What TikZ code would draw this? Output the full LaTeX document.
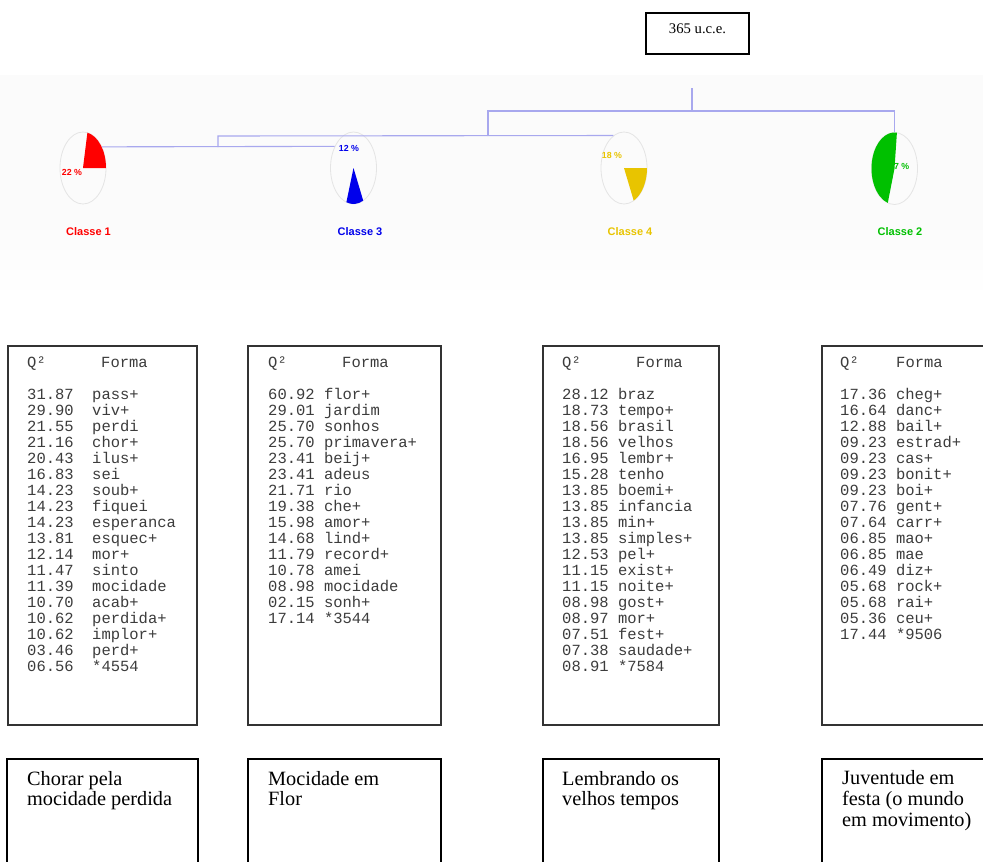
\documentclass[tikz,border=0pt]{standalone}
\usepackage{fontspec}
\setmainfont{Liberation Serif}
\newfontfamily\monofnt{Liberation Mono}
\newfontfamily\arialfnt{Liberation Sans}
\usetikzlibrary{shapes.geometric}
\definecolor{treeblue}{RGB}{168,168,238}
\definecolor{cred}{RGB}{255,0,0}
\definecolor{cblue}{RGB}{0,0,235}
\definecolor{cyel}{RGB}{232,196,0}
\definecolor{cgreen}{RGB}{0,192,0}
\definecolor{pieline}{RGB}{228,228,228}
\definecolor{bgtree}{RGB}{251,251,251}
\definecolor{tabtext}{RGB}{60,60,60}
\tikzset{
  tree/.style={draw=treeblue, line width=1.1pt},
  piebox/.style={draw=pieline, line width=0.8pt, ellipse, minimum width=46, minimum height=72, inner sep=0},
  tabtxt/.style={anchor=base west, inner sep=0, text=tabtext, font=\monofnt\fontsize{15.5}{16}\selectfont},
  bigtxt/.style={anchor=base west, inner sep=0, font=\fontsize{20.3}{20.5}\selectfont},
  classlbl/.style={anchor=base, inner sep=0, font=\arialfnt\bfseries\fontsize{11}{12}\selectfont},
  pctlbl/.style={anchor=base, inner sep=0, font=\arialfnt\bfseries\fontsize{8.8}{9}\selectfont},
  tabframe/.style={draw=black!80, line width=1.5pt},
  labframe/.style={draw=black, line width=1.1pt}
}
\begin{document}
\begin{tikzpicture}[x=1pt,y=-1pt]
\useasboundingbox (0,0) rectangle (983,862);
\clip (0,0) rectangle (983,862);
\fill[white] (0,0) rectangle (983,862);
\fill[bgtree] (0,75) rectangle (983,220);
\shade[top color=bgtree, bottom color=white] (0,219.5) rectangle (983,300);

% top box
\draw[line width=1.5pt] (646,13) rectangle (749,54);
\node[anchor=base, inner sep=0, font=\fontsize{14.7}{16}\selectfont] (total) at (697.5,33) {365 u.c.e.};

% pies
\node[piebox] (p1) at (83,168) {};
\node[piebox] (p3) at (353.5,168) {};
\node[piebox] (p4) at (624,168) {};
\node[piebox] (p2) at (894.5,168.5) {};
\fill[cred] (p1.center) -- +(-79:23 and 36) arc[start angle=-79, end angle=0, x radius=23, y radius=36] -- cycle;
\fill[cblue] (p3.center) -- +(65:23 and 36) arc[start angle=65, end angle=108, x radius=23, y radius=36] -- cycle;
\fill[cyel] (p4.center) -- +(0:23 and 36) arc[start angle=0, end angle=65, x radius=23, y radius=36] -- cycle;
\fill[cgreen] (p2.center) -- +(107:23 and 36) arc[start angle=107, end angle=276, x radius=23, y radius=36] -- cycle;

% dendrogram
\coordinate (root) at (692,88);
\coordinate (j0) at (692,111);
\coordinate (jL) at (488,111);
\coordinate (jLb) at (488,136);
\coordinate (j13) at (218,147);
\coordinate (j13t) at (218,136);
\draw[tree] (root) -- (j0);
\draw[tree] (jLb) -- (jL) -- (p2.north |- j0) -- (p2.north);
\draw[tree] (p1.48.3) -- (p3.131.7);
\draw[tree] (j13) -- (j13t) -- (p4.108.2);

% percent labels
\node[pctlbl, text=cred] (l1) at (72,175) {22 \%};
\node[pctlbl, text=cblue] (l3) at (349,151) {12 \%};
\node[pctlbl, text=cyel] (l4) at (612,158) {18 \%};
\node[pctlbl, text=cgreen, anchor=base west] (l2) at (889,169) {47 \%};

% class labels
\node[classlbl, text=cred] (c1) at (88.5,235) {Classe 1};
\node[classlbl, text=cblue] (c3) at (360,235) {Classe 3};
\node[classlbl, text=cyel] (c4) at (630,235) {Classe 4};
\node[classlbl, text=cgreen] (c2) at (900,235) {Classe 2};

% tables
\draw[tabframe] (8,346) rectangle (197,725);
\draw[tabframe] (248,346) rectangle (441,725);
\draw[tabframe] (543,346) rectangle (719,725);
\draw[tabframe] (822,346) rectangle (995,725);

\node[tabtxt] (h1q) at (27,367) {Q²};
\node[tabtxt] (h1f) at (101,367) {Forma};
\node[tabtxt] (h2q) at (268,367) {Q²};
\node[tabtxt] (h2f) at (342,367) {Forma};
\node[tabtxt] (h3q) at (562,367) {Q²};
\node[tabtxt] (h3f) at (636,367) {Forma};
\node[tabtxt] (h4q) at (840,367) {Q²};
\node[tabtxt] (h4f) at (896,367) {Forma};

\foreach \n/\w [count=\i] in {31.87/pass+, 29.90/viv+, 21.55/perdi, 21.16/chor+, 20.43/ilus+, 16.83/sei, 14.23/soub+, 14.23/fiquei, 14.23/esperanca, 13.81/esquec+, 12.14/mor+, 11.47/sinto, 11.39/mocidade, 10.70/acab+, 10.62/perdida+, 10.62/implor+, 03.46/perd+, 06.56/*4554}{
  \node[tabtxt] (t1n\i) at (27,{399+16*(\i-1)}) {\n};
  \node[tabtxt] (t1w\i) at (92,{399+16*(\i-1)}) {\w};
}
\foreach \n/\w [count=\i] in {60.92/flor+, 29.01/jardim, 25.70/sonhos, 25.70/primavera+, 23.41/beij+, 23.41/adeus, 21.71/rio, 19.38/che+, 15.98/amor+, 14.68/lind+, 11.79/record+, 10.78/amei, 08.98/mocidade, 02.15/sonh+, 17.14/*3544}{
  \node[tabtxt] (t2n\i) at (268,{399+16*(\i-1)}) {\n};
  \node[tabtxt] (t2w\i) at (323.8,{399+16*(\i-1)}) {\w};
}
\foreach \n/\w [count=\i] in {28.12/braz, 18.73/tempo+, 18.56/brasil, 18.56/velhos, 16.95/lembr+, 15.28/tenho, 13.85/boemi+, 13.85/infancia, 13.85/min+, 13.85/simples+, 12.53/pel+, 11.15/exist+, 11.15/noite+, 08.98/gost+, 08.97/mor+, 07.51/fest+, 07.38/saudade+, 08.91/*7584}{
  \node[tabtxt] (t3n\i) at (562,{399+16*(\i-1)}) {\n};
  \node[tabtxt] (t3w\i) at (617.8,{399+16*(\i-1)}) {\w};
}
\foreach \n/\w [count=\i] in {17.36/cheg+, 16.64/danc+, 12.88/bail+, 09.23/estrad+, 09.23/cas+, 09.23/bonit+, 09.23/boi+, 07.76/gent+, 07.64/carr+, 06.85/mao+, 06.85/mae, 06.49/diz+, 05.68/rock+, 05.68/rai+, 05.36/ceu+, 17.44/*9506}{
  \node[tabtxt] (t4n\i) at (840,{399+16*(\i-1)}) {\n};
  \node[tabtxt] (t4w\i) at (895.8,{399+16*(\i-1)}) {\w};
}

% bottom label boxes
\draw[labframe] (7,759) rectangle (198,880);
\draw[labframe] (248,759) rectangle (441,880);
\draw[labframe] (543,759) rectangle (719,880);
\draw[labframe] (822,759) rectangle (995,880);

\node[bigtxt] (b1a) at (27,785) {Chorar pela};
\node[bigtxt] (b1b) at (27,805.5) {mocidade perdida};
\node[bigtxt] (b2a) at (268,785) {Mocidade em};
\node[bigtxt] (b2b) at (268,805.5) {Flor};
\node[bigtxt] (b3a) at (562,785) {Lembrando os};
\node[bigtxt] (b3b) at (562,805.5) {velhos tempos};
\node[bigtxt] (b4a) at (842,784) {Juventude em};
\node[bigtxt] (b4b) at (842,805) {festa (o mundo};
\node[bigtxt] (b4c) at (842,826) {em movimento)};
\end{tikzpicture}
\end{document}
